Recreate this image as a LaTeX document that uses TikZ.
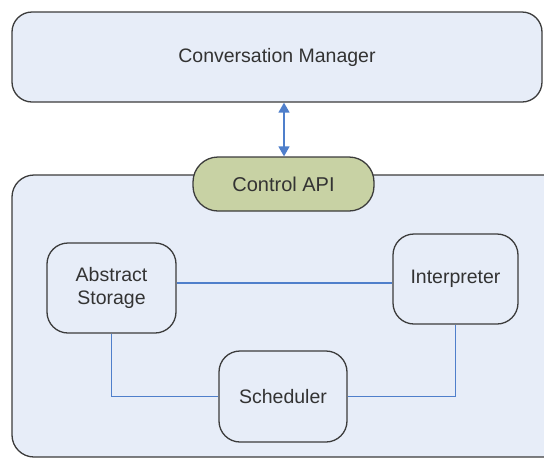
\documentclass[tikz,border=0pt]{standalone}
\usepackage{fontspec}
\setmainfont{Liberation Sans}
\usetikzlibrary{arrows.meta}
\definecolor{boxfill}{HTML}{E7EDF8}
\definecolor{apifill}{HTML}{C8D2A4}
\definecolor{edge}{HTML}{3C3C3C}
\definecolor{link}{HTML}{4F7FCB}
\begin{document}
\begin{tikzpicture}[x=1pt,y=-1pt,
  block/.style={draw=edge,line width=1.3pt,fill=boxfill,rounded corners=21pt,
    align=center,font=\fontsize{19.5}{23}\selectfont,text=black!80,inner sep=0pt},
  wire/.style={draw=link,line width=1.5pt}]
\useasboundingbox (0,0) rectangle (544,459);
% outer frame of the system
\draw[draw=edge,line width=1.3pt,fill=boxfill,rounded corners=22pt]
  (12,175) rectangle (580,457);
% top component
\node[block,rounded corners=20pt,minimum width=530pt,minimum height=90pt,
  font=\fontsize{19.5}{23}\selectfont] (cm) at (277,57) {Conversation Manager};
% interface to the system
\node[block,fill=apifill,rounded corners=25pt,minimum width=181pt,minimum height=54pt,
  font=\fontsize{20}{24}\selectfont] (api) at (283.5,184) {Control API};
% inner components
\node[block,minimum width=129pt,minimum height=90pt] (as) at (111.5,288) {Abstract\\Storage};
\node[block,minimum width=125pt,minimum height=90pt] (interp) at (455.5,279) {Interpreter};
\node[block,minimum width=128pt,minimum height=91pt] (sched) at (283,396.5) {Scheduler};
% connections
\draw[wire,{Triangle[length=10pt,width=11pt]}-{Triangle[length=10pt,width=11pt]}]
  (cm.south -| 284,0) -- (api.north -| 284,0);
\draw[wire] (as.east |- 0,283) -- (interp.west |- 0,283);
\draw[wire] (as.south) |- (sched.west);
\draw[wire] (sched.east) -| (interp.south);
\end{tikzpicture}
\end{document}
